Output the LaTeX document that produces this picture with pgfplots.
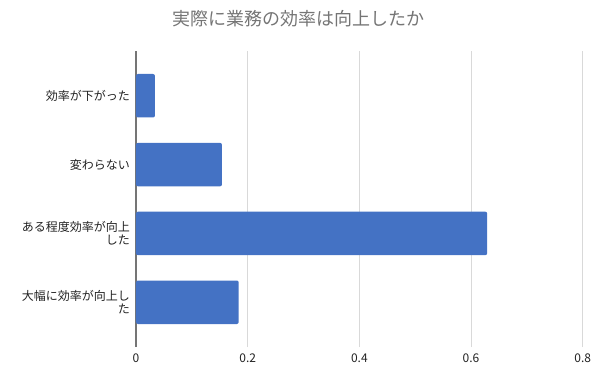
\documentclass[border=0pt]{standalone}
\usepackage{fontspec}
\setmainfont{Noto Sans CJK JP}
\usepackage{pgfplots}
\pgfplotsset{compat=1.18}
\definecolor{barblue}{HTML}{4472C4}
\definecolor{titlegray}{HTML}{757575}
\definecolor{gridgray}{HTML}{D9D9D9}
\definecolor{axisgray}{HTML}{757575}
\definecolor{labelc}{HTML}{222222}
\begin{document}
\begin{tikzpicture}[x=1pt,y=1pt]
\useasboundingbox (0,0) rectangle (600,384);
\begin{axis}[
  at={(136pt,37pt)}, anchor=south west,
  scale only axis, width=446.7pt, height=296pt,
  xbar, bar width=43.5pt,
  xmin=0, xmax=0.8, ymin=-0.65, ymax=3.65,
  xtick={0,0.2,0.4,0.6,0.8},
  xticklabels={0,0.2,0.4,0.6,0.8},
  ytick={0,1,2,3},
  yticklabels={{大幅に効率が向上し\\た},{ある程度効率が向上\\した},{変わらない},{効率が下がった}},
  xmajorgrids, major grid style={gridgray, line width=0.8pt},
  major tick length=0pt,
  axis x line*=bottom, axis y line*=left,
  x axis line style={draw=none},
  y axis line style={axisgray, line width=1.3pt},
  xticklabel style={font=\fontsize{12}{13}\selectfont, text=labelc, inner sep=0pt, anchor=north, yshift=-7pt},
  yticklabel style={font=\fontsize{12}{13}\selectfont, text=labelc, align=right, inner sep=0pt, anchor=east, xshift=-6pt},
  /pgf/number format/assume math mode=true,
  title={実際に業務の効率は向上したか},
  title style={font=\fontsize{18}{20}\selectfont, text=titlegray, at={(rel axis cs:0.363,1.088)}, anchor=center, inner sep=0pt},
  axis on top=false,
]
\addplot[fill=barblue, draw=none, rounded corners=2pt] coordinates {(0.184,0) (0.629,1) (0.154,2) (0.034,3)};
\end{axis}
\end{tikzpicture}
\end{document}
